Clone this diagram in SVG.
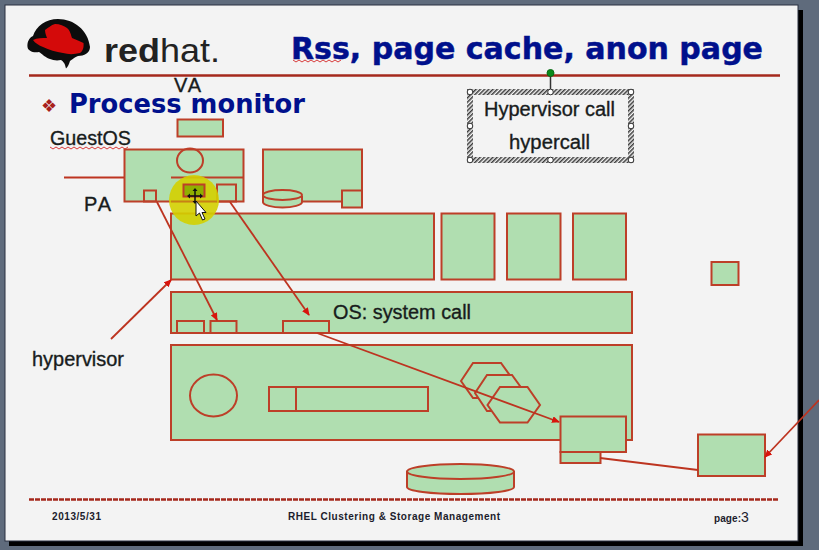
<svg xmlns="http://www.w3.org/2000/svg" width="819" height="550" viewBox="0 0 819 550">
<style>
.n{fill:#b0deb0;stroke:#bd3f28;stroke-width:2}
.nf{fill:none;stroke:#bd3f28;stroke-width:2}
.c{fill:none;stroke:#bd3420;stroke-width:1.8}
.a{fill:none;stroke:#bd3420;stroke-width:1.8;marker-end:url(#ah)}
.t{font-family:"Liberation Sans",Arial,sans-serif;font-size:20px;fill:#181c1c;stroke:#181c1c;stroke-width:.35}
.h{font-family:"DejaVu Sans",sans-serif;font-weight:bold;fill:#00108c}
.f{font-family:"Liberation Sans",Arial,sans-serif;font-weight:bold;font-size:10px;fill:#1c1c2c}
.r{stroke:#a5281c;stroke-width:2.4;fill:none}
.w{fill:none;stroke:#d83a3a;stroke-width:1}
.hd{fill:#fff;stroke:#333;stroke-width:1}
</style>
<defs>
<marker id="ah" markerWidth="8" markerHeight="7" refX="7" refY="3.500" orient="auto" markerUnits="userSpaceOnUse"><path d="M0 0L8 3.500L0 7z" fill="#d8140c"/></marker>
<pattern id="hatch" width="3" height="3" patternUnits="userSpaceOnUse" patternTransform="rotate(-45)"><rect width="3" height="3" fill="#f3f3f3"/><rect width="3" height="1.500" fill="#3a3a3a"/></pattern>
</defs>
<rect width="819" height="550" fill="#5f6b7c"/>
<rect x="9" y="10" width="794" height="536" fill="#000"/>
<rect x="5" y="5" width="793" height="536" fill="#f3f3f3" stroke="#2a3040" stroke-width="1"/>

<g id="logo">
<path d="M27.500 47C27 42 29 38 33 36C36 26 46 19 58 19C74 19 88 30 90 47C90 53 84 56 78 56C73 58 72 60 70 61C69 64 68 67 66 68.500C65 64 64 62 61 60C56 61 53 60 50 59C46 58 42 54 39 52C33 53 28 51 27.500 47z" fill="#0c0c0c"/>
<path d="M33 40C37 38 42 38 47 38C46 35 45 33 45 30C48 28 51 25 55 24C60 24 64 26 67 28C70 30 71 35 72 38C76 40 80 41 83.500 43C84 47 83 51 80 53C74 54.500 68 54.500 63 53C56 52 49 50 43 47C39 45.500 35 43 33 40z" fill="#d40a0a"/>
<text x="104" y="62" font-family="'Liberation Sans',Arial,sans-serif" font-size="33" fill="#222" textLength="116" lengthAdjust="spacingAndGlyphs"><tspan font-weight="bold">red</tspan>hat.</text>
</g>

<g id="title">
<text class="h" x="291" y="59" font-size="31" stroke="#00108c" stroke-width=".5" textLength="472" lengthAdjust="spacingAndGlyphs">Rss, page cache, anon page</text>
<path class="w" d="M293 60l3 2l3-2l3 2l3-2l3 2l3-2l3 2l3-2l3 2l3-2l3 2l3-2l3 2l3-2l3 2l3-2"/>
<path class="r" d="M29 75.500H780"/>
</g>

<g id="heading">
<text x="41" y="112" font-family="'DejaVu Sans',sans-serif" font-size="18" fill="#a8201a">❖</text>
<text class="h" x="69" y="113" font-size="27" textLength="236" lengthAdjust="spacingAndGlyphs">Process monitor</text>
</g>

<g id="label-va"><text class="t" x="174" y="92" textLength="27">VA</text></g>
<g id="label-guestos">
<text class="t" x="50" y="145" textLength="81" lengthAdjust="spacingAndGlyphs">GuestOS</text>
<path class="w" d="M50 147l3 2l3-2l3 2l3-2l3 2l3-2l3 2l3-2l3 2l3-2l3 2l3-2l3 2l3-2l3 2l3-2l3 2l3-2l3 2l3-2l3 2l3-2l3 2l3-2l3 2l3-2"/>
</g>
<g id="label-pa"><text class="t" x="84" y="211" textLength="27">PA</text></g>
<g id="label-hypervisor"><text class="t" x="32" y="366" textLength="92" lengthAdjust="spacingAndGlyphs">hypervisor</text></g>

<g id="va-box"><rect class="n" x="177.500" y="119.500" width="45.500" height="17"/></g>

<g id="guest-box">
<rect class="n" x="124.500" y="149.500" width="119" height="52"/>
<ellipse class="nf" cx="190" cy="160.500" rx="13" ry="12"/>
<path class="nf" d="M171 177.500H243"/>
<rect class="nf" x="144" y="190.500" width="12" height="11"/>
<rect class="nf" x="217" y="184.500" width="19" height="17"/>
</g>

<g id="guest-box-2">
<rect class="n" x="263" y="149.500" width="99" height="52"/>
<path class="n" d="M263 196V202C263 205 272 207.500 282.500 207.500C293 207.500 302 205 302 202V196"/>
<ellipse class="n" cx="282.500" cy="195" rx="19.500" ry="5"/>
<rect class="n" x="342" y="190.500" width="20" height="17"/>
</g>

<g id="row-main"><rect class="n" x="171" y="213.500" width="263" height="66"/></g>
<g id="row-b"><rect class="n" x="441.500" y="213.500" width="53" height="66"/></g>
<g id="row-c"><rect class="n" x="507" y="213.500" width="53.500" height="66"/></g>
<g id="row-d"><rect class="n" x="573" y="213.500" width="53" height="66"/></g>
<g id="right-small"><rect class="n" x="711.500" y="262" width="27" height="23"/></g>

<g id="os-bar">
<rect class="n" x="171" y="292" width="461" height="41"/>
<rect class="nf" x="177" y="321" width="27" height="12"/>
<rect class="nf" x="210.500" y="321" width="26" height="12"/>
<rect class="nf" x="283" y="321" width="46" height="12"/>
<text class="t" x="333" y="319" textLength="138" lengthAdjust="spacingAndGlyphs">OS: system call</text>
</g>

<g id="hardware">
<rect class="n" x="171" y="345" width="461" height="95"/>
<ellipse class="nf" cx="213.500" cy="395.500" rx="23.500" ry="21"/>
<rect class="nf" x="269" y="387" width="159" height="24"/>
<path class="nf" d="M296 387V411"/>
</g>
<g id="hex-1"><path class="n" d="M461 381L473 363H501L514 381L501 398H473z"/></g>
<g id="hex-2"><path class="n" d="M475 393L487 375H512L525 393L512 411H487z"/></g>
<g id="hex-3"><path class="n" d="M487.500 405L500 387H527.500L540 405L527.500 422.500H500z"/></g>

<g id="disk">
<path class="n" d="M407 471V487C407 491 431 494 460.500 494C490 494 514 491 514 487V471"/>
<ellipse class="n" cx="460.500" cy="471.500" rx="53.500" ry="7.500"/>
</g>

<g id="page-small"><rect class="n" x="560.500" y="452" width="40" height="11"/></g>
<g id="page-box"><rect class="n" x="560.500" y="416.500" width="65.500" height="35.500"/></g>
<g id="cache-box"><rect class="n" x="698" y="434.500" width="67" height="41.500"/></g>

<g id="highlight">
<circle cx="194" cy="200" r="25" fill="#d4d000" fill-opacity=".9"/>
<path d="M171 201.500H217" stroke="#bd3f28" stroke-width="2" fill="none" opacity=".5"/>
<rect class="nf" x="183.500" y="184.500" width="21" height="12" style="fill:#8fb000"/>
</g>

<g id="connectors">
<path class="c" d="M64 177.500H124"/>
<path class="a" d="M157 202L217 320"/>
<path class="a" d="M230 202L309 315"/>
<path class="a" d="M317 333L559 422"/>
<path class="a" d="M111 339L171 280"/>
<path class="c" d="M600 458L698 470"/>
<path class="a" d="M819 400L765 457"/>
</g>

<g id="cursor">
<path d="M195 191V201M190 196H200" stroke="#111" stroke-width="1.500" fill="none"/>
<path d="M195 188l2.500 3h-5zM195 204l2.500-3h-5zM187 196l3-2.500v5zM203 196l-3-2.500v5z" fill="#111"/>
<path d="M196 201V216L199.500 213L202.500 220L205 219L202 212.500H206z" fill="#fff" stroke="#111" stroke-width="1"/>
</g>

<g id="hypercall-box">
<path d="M550.500 73V91" stroke="#333" stroke-width="1.500" fill="none"/>
<circle cx="550.500" cy="73" r="3.500" fill="#0a8a1a" stroke="#0a6a14" stroke-width="1"/>
<rect x="470" y="92" width="161" height="68" fill="none" stroke="url(#hatch)" stroke-width="6"/>
<circle class="hd" cx="470" cy="92" r="2.800"/><circle class="hd" cx="550.500" cy="92" r="2.800"/><circle class="hd" cx="631" cy="92" r="2.800"/>
<circle class="hd" cx="470" cy="126" r="2.800"/><circle class="hd" cx="631" cy="126" r="2.800"/>
<circle class="hd" cx="470" cy="160" r="2.800"/><circle class="hd" cx="550.500" cy="160" r="2.800"/><circle class="hd" cx="631" cy="160" r="2.800"/>
<text class="t" x="484" y="116" textLength="131" lengthAdjust="spacingAndGlyphs">Hypervisor call</text>
<text class="t" x="509" y="149" textLength="81" lengthAdjust="spacingAndGlyphs">hypercall</text>
</g>

<g id="footer">
<path class="r" stroke-dasharray="5 1" d="M29 499.500H779"/>
<text class="f" x="52" y="520" textLength="49">2013/5/31</text>
<text class="f" x="288" y="519.500" textLength="212">RHEL Clustering &amp; Storage Management</text>
<text class="f" x="714" y="522" textLength="27">page:</text>
<text x="741" y="522" font-family="'Liberation Sans',Arial,sans-serif" font-size="14" fill="#1c1c2c">3</text>
</g>
</svg>
